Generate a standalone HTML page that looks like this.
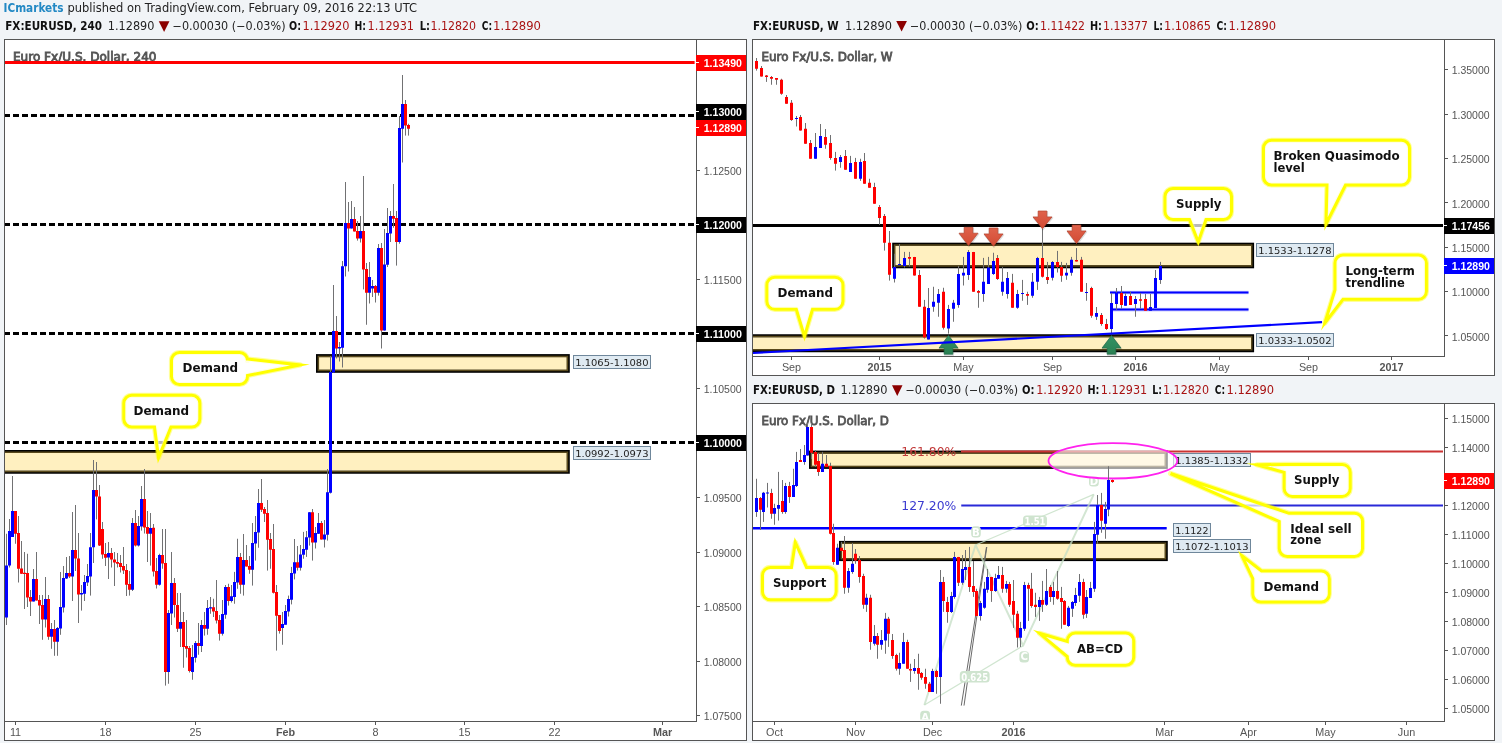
<!DOCTYPE html><html><head><meta charset="utf-8"><title>EURUSD</title><style>html,body{margin:0;padding:0;background:#f1f4f7}svg{display:block}text{white-space:pre}</style></head><body>
<svg width="1502" height="743" viewBox="0 0 1502 743">
<defs><linearGradient id="gr" x1="0" y1="0" x2="0" y2="1"><stop offset="0" stop-color="#e0624b"/><stop offset="1" stop-color="#d24b34"/></linearGradient><linearGradient id="gg" x1="0" y1="0" x2="0" y2="1"><stop offset="0" stop-color="#359364"/><stop offset="1" stop-color="#2a8052"/></linearGradient></defs>
<rect width="1502" height="743" fill="#f1f4f7"/>
<text x="3.5" y="12.2" font-family='"DejaVu Sans Condensed", "DejaVu Sans", "Liberation Sans", sans-serif' font-size="11.8" fill="#2389c4" font-weight="bold" textLength="60" lengthAdjust="spacingAndGlyphs">ICmarkets</text>
<text x="67.5" y="12.2" font-family='"DejaVu Sans", "Liberation Sans", sans-serif' font-size="11.8" fill="#222" textLength="349.5" lengthAdjust="spacingAndGlyphs">published on TradingView.com, February 09, 2016 22:13 UTC</text>
<rect x="4.5" y="39.5" width="742" height="701" fill="#fff" stroke="#555555" stroke-width="1"/>
<text x="5.25" y="30" font-family='"DejaVu Sans Condensed", "DejaVu Sans", "Liberation Sans", sans-serif' font-size="11.6" fill="#111" font-weight="bold" textLength="96.8" lengthAdjust="spacingAndGlyphs">FX:EURUSD, 240</text>
<text x="107.75" y="30" font-family='"DejaVu Sans", "Liberation Sans", sans-serif' font-size="11.6" fill="#222" textLength="46.7" lengthAdjust="spacingAndGlyphs">1.12890</text>
<path d="M158.75 21.3h10.7l-5.35 10.6z" fill="#8b0000"/>
<text x="172.5" y="30" font-family='"DejaVu Sans", "Liberation Sans", sans-serif' font-size="11.6" fill="#222" textLength="113" lengthAdjust="spacingAndGlyphs">−0.00030 (−0.03%)</text>
<text x="289" y="30" font-family='"DejaVu Sans Condensed", "DejaVu Sans", "Liberation Sans", sans-serif' font-size="11.6" fill="#111" font-weight="bold" textLength="12" lengthAdjust="spacingAndGlyphs">O:</text>
<text x="302.5" y="30" font-family='"DejaVu Sans", "Liberation Sans", sans-serif' font-size="11.6" fill="#a81212" textLength="47" lengthAdjust="spacingAndGlyphs">1.12920</text>
<text x="354.5" y="30" font-family='"DejaVu Sans Condensed", "DejaVu Sans", "Liberation Sans", sans-serif' font-size="11.6" fill="#111" font-weight="bold" textLength="11.5" lengthAdjust="spacingAndGlyphs">H:</text>
<text x="367.5" y="30" font-family='"DejaVu Sans", "Liberation Sans", sans-serif' font-size="11.6" fill="#a81212" textLength="46.5" lengthAdjust="spacingAndGlyphs">1.12931</text>
<text x="419.75" y="30" font-family='"DejaVu Sans Condensed", "DejaVu Sans", "Liberation Sans", sans-serif' font-size="11.6" fill="#111" font-weight="bold" textLength="10.3" lengthAdjust="spacingAndGlyphs">L:</text>
<text x="430.5" y="30" font-family='"DejaVu Sans", "Liberation Sans", sans-serif' font-size="11.6" fill="#a81212" textLength="45.5" lengthAdjust="spacingAndGlyphs">1.12820</text>
<text x="481.75" y="30" font-family='"DejaVu Sans Condensed", "DejaVu Sans", "Liberation Sans", sans-serif' font-size="11.6" fill="#111" font-weight="bold" textLength="10.3" lengthAdjust="spacingAndGlyphs">C:</text>
<text x="493" y="30" font-family='"DejaVu Sans", "Liberation Sans", sans-serif' font-size="11.6" fill="#a81212" textLength="48" lengthAdjust="spacingAndGlyphs">1.12890</text>
<clipPath id="c1"><rect x="5" y="40" width="691" height="681"/></clipPath>
<g clip-path="url(#c1)">
<text x="13" y="60.5" font-family='"DejaVu Sans", "Liberation Sans", sans-serif' font-size="11.5" fill="#555" textLength="143.5" lengthAdjust="spacingAndGlyphs" stroke="#555" stroke-width=".8">Euro Fx/U.S. Dollar, 240</text>
<rect x="317.5" y="355.6" width="250.8" height="15.7" fill="#fff0c0" stroke="#000" stroke-width="3"/>
<rect x="318.35" y="356.45" width="249.1" height="14" fill="none" stroke="#5a4a1c" stroke-width="1.5"/>
<rect x="0" y="451.4" width="568.3" height="20.9" fill="#fff0c0"/>
<path d="M0 451.4H568.3V472.3H0" fill="none" stroke="#000" stroke-width="3"/>
<path d="M0 452.25H567.45V471.45H0" fill="none" stroke="#5a4a1c" stroke-width="1.5"/>
<path d="M4 115.5H694.3" stroke="#000" stroke-width="3" stroke-dasharray="6 3" fill="none"/>
<path d="M4 224.5H694.3" stroke="#000" stroke-width="3" stroke-dasharray="6 3" fill="none"/>
<path d="M4 333.5H694.3" stroke="#000" stroke-width="3" stroke-dasharray="6 3" fill="none"/>
<path d="M4 442.5H694.3" stroke="#000" stroke-width="3" stroke-dasharray="6 3" fill="none"/>
<path d="M5 62.5H694.6" stroke="#ff0000" stroke-width="3" fill="none"/>
<path d="M6.5 533.75V625M9.5 519V567.5M12.5 476V537M15.5 511V543.75M18.5 516V582.5M21.5 541V574M24.5 552V609M27.5 553.75V607M30.5 590V616M33.5 569V601.5M36.5 552V600.6M39.5 595V624M42.5 595V639.8M45.5 577V627.5M48.5 595V639.8M51.5 623V648.8M54.5 620V655.8M57.5 627V655.8M60.5 572V634.8M63.5 566V612.5M66.5 557V579M69.5 556V578M72.5 512V601M75.5 505V571M78.5 533V623M81.5 585V610.6M84.5 575V601M87.5 564V586M90.5 533V595.6M93.5 460V563M96.5 462V519.4M99.5 485V546M102.5 522V558.75M105.5 543V566M108.5 542V579M111.5 548V567.5M114.5 552V586M117.5 553V567.5M120.5 555V572.5M123.5 547V574M126.5 564V596M129.5 571V595.6M132.5 518V591M135.5 510V546.5M138.5 516V546.5M141.5 486V530.6M144.5 469V533.5M147.5 511V562M150.5 513V565.6M153.5 524V576.5M156.5 558V588.5M159.5 553.75V585.6M162.5 529V568.75M165.5 529V685.6M168.5 610V683.75M171.5 552V625M174.5 578V617.5M177.5 593V632M180.5 593V647M183.5 612V667.75M186.5 620V657.5M189.5 646V672.5M192.5 645V679.75M195.5 641V662.5M198.5 623V654.75M201.5 620V652M204.5 612V635.6M207.5 600V634.75M210.5 597V613.75M213.5 598.75V617M216.5 580V623.5M219.5 615V640.6M222.5 600V635.6M225.5 585V618.75M228.5 583.75V605.6M231.5 585V602.5M234.5 571.9V603.75M237.5 538.75V588.75M240.5 553V593.75M243.5 534V595.6M246.5 545V566.5M249.5 556V573.75M252.5 523V585.6M255.5 516V560.6M258.5 489V547.75M261.5 479V512M264.5 507V522M267.5 500V570.6M270.5 533V568.75M273.5 524V593.5M276.5 585V650.6M279.5 615V633.6M282.5 612V644.75M285.5 605V624.75M288.5 595.6V616.5M291.5 566.9V604.4M294.5 539V579.4M297.5 546V570.6M300.5 545V570.6M303.5 531.9V558.75M306.5 531V556.9M309.5 512V545.6M312.5 509V560.6M315.5 527V548.5M318.5 513V534M321.5 521V539.5M324.5 520V547.5M327.5 469V540.6M330.5 356V493.5M333.5 285V372.5M336.5 316V358.5M339.5 342V361.5M342.5 261V367.5M345.5 182V276.5M348.5 202V271.5M351.5 201V228.5M354.5 207V231.5M357.5 221V240.6M360.5 216V242.5M363.5 176V289.4M366.5 263V324.75M369.5 262V303.5M372.5 280V297M375.5 285V302.5M378.5 244V295.6M381.5 243V348.5M384.5 229V330.6M387.5 208V267M390.5 211V242M393.5 184V227.75M396.5 211V265.6M399.5 116V243.75M402.5 75V162.5M405.5 100V135.6M408.5 123.75V135.6" stroke="#717173" stroke-width="1" fill="none"/>
<path d="M14 511h3V533.75h-3zM17 533h3V568.75h-3zM20 568.5h3V573.75h-3zM23 572.75h3V574h-3zM26 573h3V597.5h-3zM29 597h3V601.5h-3zM35 579h3V600.6h-3zM38 600h3V605.6h-3zM41 605h3V619.4h-3zM47 599h3V636.8h-3zM53 629h3V641.8h-3zM68 573h3V576.5h-3zM74 550h3V558.5h-3zM77 558.5h3V594.4h-3zM95 490h3V496.5h-3zM98 496.5h3V545.6h-3zM101 529h3V554.4h-3zM104 554h3V557.75h-3zM110 553h3V559.4h-3zM113 559.4h3V562.5h-3zM116 562h3V563.75h-3zM119 563h3V567h-3zM122 566h3V570.6h-3zM125 570h3V584.75h-3zM128 584h3V589.75h-3zM134 523h3V545.6h-3zM143 499h3V527.5h-3zM146 527h3V533.75h-3zM152 527.75h3V571.5h-3zM155 571h3V584.75h-3zM161 555h3V563.5h-3zM164 563h3V671.9h-3zM173 583h3V605h-3zM176 605h3V628.75h-3zM182 622h3V647h-3zM185 646h3V648.75h-3zM188 648h3V671h-3zM197 643h3V646h-3zM203 625h3V628.75h-3zM212 607.25h3V611.5h-3zM215 611h3V620.6h-3zM218 620h3V633.75h-3zM227 586.9h3V600.9h-3zM239 556.9h3V584.75h-3zM245 560h3V566.5h-3zM248 566h3V569.75h-3zM260 503h3V509.75h-3zM263 509h3V513.75h-3zM266 513h3V539.75h-3zM269 539h3V549.75h-3zM272 549h3V592.75h-3zM275 592h3V615.8h-3zM278 615h3V631h-3zM296 562.25h3V567.75h-3zM311 512.25h3V542.5h-3zM320 523h3V539.5h-3zM335 331h3V348.5h-3zM347 223h3V228.5h-3zM353 219h3V231.5h-3zM356 231h3V238.5h-3zM362 231h3V269.4h-3zM365 269h3V292.75h-3zM374 286h3V292.75h-3zM380 248h3V330.6h-3zM392 216h3V218.75h-3zM395 218h3V242h-3zM404 103.9h3V125.6h-3zM407 125h3V128.75h-3z" fill="#ff0000"/>
<path d="M5 565.6h3V617.5h-3zM8 531h3V565.6h-3zM11 511h3V537h-3zM32 579h3V601.5h-3zM44 599h3V619.4h-3zM50 629h3V636.8h-3zM56 628h3V641.8h-3zM59 607h3V628.5h-3zM62 578h3V607.5h-3zM65 573h3V578.5h-3zM71 550h3V576.5h-3zM80 593h3V594.4h-3zM83 582h3V593.75h-3zM86 576h3V582.5h-3zM89 547.25h3V576.5h-3zM92 490h3V547.25h-3zM107 553h3V557.5h-3zM131 523h3V589.75h-3zM137 526h3V545.6h-3zM140 499h3V526.5h-3zM149 528h3V533.75h-3zM158 555h3V584.75h-3zM167 613h3V672h-3zM170 583h3V613.5h-3zM179 622h3V628.75h-3zM191 657h3V672h-3zM194 643h3V657.75h-3zM200 625h3V646h-3zM206 608h3V628.75h-3zM209 607.25h3V608.5h-3zM221 614h3V633.75h-3zM224 586.9h3V614.75h-3zM230 596.25h3V600.9h-3zM233 582h3V596.9h-3zM236 556.9h3V582.5h-3zM242 560h3V584.75h-3zM251 543h3V569.75h-3zM254 531.9h3V543.5h-3zM257 503h3V532.5h-3zM281 624h3V628h-3zM284 611h3V624.75h-3zM287 599h3V611.5h-3zM290 573h3V599.75h-3zM293 562.25h3V573.5h-3zM299 554.4h3V567.75h-3zM302 549h3V554.75h-3zM305 537.25h3V549.75h-3zM308 512.25h3V537.5h-3zM314 533h3V542.5h-3zM317 523h3V533.75h-3zM323 534.4h3V539.5h-3zM326 492.25h3V534.75h-3zM329 371.9h3V492.75h-3zM332 331h3V372.5h-3zM338 346.9h3V348.5h-3zM341 266.25h3V347.75h-3zM344 223h3V266.25h-3zM350 219h3V228.5h-3zM359 231h3V238.5h-3zM368 276.9h3V292.75h-3zM371 286h3V288.5h-3zM377 248h3V292.75h-3zM383 264.4h3V330.6h-3zM386 233h3V264.75h-3zM389 216h3V233.5h-3zM398 128h3V242h-3zM401 103.9h3V128.75h-3z" fill="#0000ff"/>
</g>
<rect x="573.5" y="355.5" width="77" height="13" fill="#dfeaf2" stroke="#6f879b" stroke-width="1"/>
<text x="575.2" y="365.7" font-family='"DejaVu Sans", Verdana, sans-serif' font-size="9.4" fill="#222" textLength="73.3" lengthAdjust="spacingAndGlyphs">1.1065-1.1080</text>
<rect x="573.5" y="446.5" width="77" height="13" fill="#dfeaf2" stroke="#6f879b" stroke-width="1"/>
<text x="575.2" y="456.7" font-family='"DejaVu Sans", Verdana, sans-serif' font-size="9.4" fill="#222" textLength="73.3" lengthAdjust="spacingAndGlyphs">1.0992-1.0973</text>
<path d="M179.5 352.5L239.5 352.5A8 8 0 0 1 247.5 360.5L247.5 359L300.08 364.92L247.5 375.5L247.5 376.5A8 8 0 0 1 239.5 384.5L179.5 384.5A8 8 0 0 1 171.5 376.5L171.5 360.5A8 8 0 0 1 179.5 352.5Z" fill="none" stroke="#ffff00" stroke-width="5.2" stroke-linejoin="round" opacity=".4"/>
<path d="M179.5 352.5L239.5 352.5A8 8 0 0 1 247.5 360.5L247.5 359L300.08 364.92L247.5 375.5L247.5 376.5A8 8 0 0 1 239.5 384.5L179.5 384.5A8 8 0 0 1 171.5 376.5L171.5 360.5A8 8 0 0 1 179.5 352.5Z" fill="#fff" fill-opacity=".72" stroke="#ffff00" stroke-width="3" stroke-linejoin="miter" stroke-miterlimit="10"/>
<text x="182.5" y="372" font-family='"DejaVu Sans", Verdana, sans-serif' font-size="12" fill="#111" font-weight="bold" textLength="55.6" lengthAdjust="spacingAndGlyphs">Demand</text>
<path d="M131.8 395.3L191.8 395.3A8 8 0 0 1 199.8 403.3L199.8 419A8 8 0 0 1 191.8 427L171 427L158.56 457.68L154.5 427L131.8 427A8 8 0 0 1 123.8 419L123.8 403.3A8 8 0 0 1 131.8 395.3Z" fill="none" stroke="#ffff00" stroke-width="5.2" stroke-linejoin="round" opacity=".4"/>
<path d="M131.8 395.3L191.8 395.3A8 8 0 0 1 199.8 403.3L199.8 419A8 8 0 0 1 191.8 427L171 427L158.56 457.68L154.5 427L131.8 427A8 8 0 0 1 123.8 419L123.8 403.3A8 8 0 0 1 131.8 395.3Z" fill="#fff" fill-opacity=".72" stroke="#ffff00" stroke-width="3" stroke-linejoin="miter" stroke-miterlimit="10"/>
<text x="133.5" y="414.8" font-family='"DejaVu Sans", Verdana, sans-serif' font-size="12" fill="#111" font-weight="bold" textLength="55.6" lengthAdjust="spacingAndGlyphs">Demand</text>
<path d="M696.5 40V722 M5 721.5H697" stroke="#555555" stroke-width="1" fill="none"/>
<rect x="697" y="170" width="3" height="1" fill="#555555"/>
<text x="703.7" y="175.2" font-family='"Liberation Sans", Arial, sans-serif' font-size="10.6" fill="#555" textLength="37.9" lengthAdjust="spacingAndGlyphs">1.12500</text>
<rect x="697" y="279" width="3" height="1" fill="#555555"/>
<text x="703.7" y="284.2" font-family='"Liberation Sans", Arial, sans-serif' font-size="10.6" fill="#555" textLength="37.9" lengthAdjust="spacingAndGlyphs">1.11500</text>
<rect x="697" y="388" width="3" height="1" fill="#555555"/>
<text x="703.7" y="393.2" font-family='"Liberation Sans", Arial, sans-serif' font-size="10.6" fill="#555" textLength="37.9" lengthAdjust="spacingAndGlyphs">1.10500</text>
<rect x="697" y="497" width="3" height="1" fill="#555555"/>
<text x="703.7" y="502.2" font-family='"Liberation Sans", Arial, sans-serif' font-size="10.6" fill="#555" textLength="37.9" lengthAdjust="spacingAndGlyphs">1.09500</text>
<rect x="697" y="552" width="3" height="1" fill="#555555"/>
<text x="703.7" y="556.7" font-family='"Liberation Sans", Arial, sans-serif' font-size="10.6" fill="#555" textLength="37.9" lengthAdjust="spacingAndGlyphs">1.09000</text>
<rect x="697" y="606" width="3" height="1" fill="#555555"/>
<text x="703.7" y="611.2" font-family='"Liberation Sans", Arial, sans-serif' font-size="10.6" fill="#555" textLength="37.9" lengthAdjust="spacingAndGlyphs">1.08500</text>
<rect x="697" y="661" width="3" height="1" fill="#555555"/>
<text x="703.7" y="665.7" font-family='"Liberation Sans", Arial, sans-serif' font-size="10.6" fill="#555" textLength="37.9" lengthAdjust="spacingAndGlyphs">1.08000</text>
<rect x="697" y="715" width="3" height="1" fill="#555555"/>
<text x="703.7" y="720.2" font-family='"Liberation Sans", Arial, sans-serif' font-size="10.6" fill="#555" textLength="37.9" lengthAdjust="spacingAndGlyphs">1.07500</text>
<rect x="696" y="55" width="50" height="16" fill="#ff0000"/>
<rect x="696" y="62" width="3" height="1" fill="#fff"/>
<text x="703.7" y="67.4" font-family='"Liberation Sans", Arial, sans-serif' font-size="10.6" fill="#fff" font-weight="bold" textLength="38.2" lengthAdjust="spacingAndGlyphs">1.13490</text>
<rect x="696" y="104" width="50" height="16" fill="#000"/>
<rect x="696" y="111" width="3" height="1" fill="#fff"/>
<text x="703.7" y="116.4" font-family='"Liberation Sans", Arial, sans-serif' font-size="10.6" fill="#fff" font-weight="bold" textLength="38.2" lengthAdjust="spacingAndGlyphs">1.13000</text>
<rect x="696" y="120" width="50" height="16" fill="#ff0000"/>
<rect x="696" y="127" width="3" height="1" fill="#fff"/>
<text x="703.7" y="132.4" font-family='"Liberation Sans", Arial, sans-serif' font-size="10.6" fill="#fff" font-weight="bold" textLength="38.2" lengthAdjust="spacingAndGlyphs">1.12890</text>
<rect x="696" y="217" width="50" height="16" fill="#000"/>
<rect x="696" y="224" width="3" height="1" fill="#fff"/>
<text x="703.7" y="229.4" font-family='"Liberation Sans", Arial, sans-serif' font-size="10.6" fill="#fff" font-weight="bold" textLength="38.2" lengthAdjust="spacingAndGlyphs">1.12000</text>
<rect x="696" y="326" width="50" height="16" fill="#000"/>
<rect x="696" y="333" width="3" height="1" fill="#fff"/>
<text x="703.7" y="338.4" font-family='"Liberation Sans", Arial, sans-serif' font-size="10.6" fill="#fff" font-weight="bold" textLength="38.2" lengthAdjust="spacingAndGlyphs">1.11000</text>
<rect x="696" y="435" width="50" height="16" fill="#000"/>
<rect x="696" y="442" width="3" height="1" fill="#fff"/>
<text x="703.7" y="447.4" font-family='"Liberation Sans", Arial, sans-serif' font-size="10.6" fill="#fff" font-weight="bold" textLength="38.2" lengthAdjust="spacingAndGlyphs">1.10000</text>
<rect x="15" y="722" width="1" height="3" fill="#555555"/>
<text x="15.5" y="736.2" font-family='"Liberation Sans", Arial, sans-serif' font-size="10.8" fill="#555" text-anchor="middle">11</text>
<rect x="105" y="722" width="1" height="3" fill="#555555"/>
<text x="105.5" y="736.2" font-family='"Liberation Sans", Arial, sans-serif' font-size="10.8" fill="#555" text-anchor="middle">18</text>
<rect x="195" y="722" width="1" height="3" fill="#555555"/>
<text x="195.5" y="736.2" font-family='"Liberation Sans", Arial, sans-serif' font-size="10.8" fill="#555" text-anchor="middle">25</text>
<rect x="285" y="722" width="1" height="3" fill="#555555"/>
<text x="285.5" y="736.2" font-family='"Liberation Sans", Arial, sans-serif' font-size="10.8" fill="#555" font-weight="bold" text-anchor="middle">Feb</text>
<rect x="375" y="722" width="1" height="3" fill="#555555"/>
<text x="375.5" y="736.2" font-family='"Liberation Sans", Arial, sans-serif' font-size="10.8" fill="#555" text-anchor="middle">8</text>
<rect x="464" y="722" width="1" height="3" fill="#555555"/>
<text x="464.5" y="736.2" font-family='"Liberation Sans", Arial, sans-serif' font-size="10.8" fill="#555" text-anchor="middle">15</text>
<rect x="554" y="722" width="1" height="3" fill="#555555"/>
<text x="554.5" y="736.2" font-family='"Liberation Sans", Arial, sans-serif' font-size="10.8" fill="#555" text-anchor="middle">22</text>
<rect x="662" y="722" width="1" height="3" fill="#555555"/>
<text x="662.5" y="736.2" font-family='"Liberation Sans", Arial, sans-serif' font-size="10.8" fill="#555" font-weight="bold" text-anchor="middle">Mar</text>
<rect x="752.5" y="39.5" width="742" height="336" fill="#fff" stroke="#555555" stroke-width="1"/>
<text x="753" y="29.7" font-family='"DejaVu Sans Condensed", "DejaVu Sans", "Liberation Sans", sans-serif' font-size="11.6" fill="#111" font-weight="bold" textLength="85.75" lengthAdjust="spacingAndGlyphs">FX:EURUSD, W</text>
<text x="845" y="29.7" font-family='"DejaVu Sans", "Liberation Sans", sans-serif' font-size="11.6" fill="#222" textLength="47" lengthAdjust="spacingAndGlyphs">1.12890</text>
<path d="M896.25 21h10.7l-5.35 10.6z" fill="#8b0000"/>
<text x="910" y="29.7" font-family='"DejaVu Sans", "Liberation Sans", sans-serif' font-size="11.6" fill="#222" textLength="112.3" lengthAdjust="spacingAndGlyphs">−0.00030 (−0.03%)</text>
<text x="1026.25" y="29.7" font-family='"DejaVu Sans Condensed", "DejaVu Sans", "Liberation Sans", sans-serif' font-size="11.6" fill="#111" font-weight="bold" textLength="12.5" lengthAdjust="spacingAndGlyphs">O:</text>
<text x="1040" y="29.7" font-family='"DejaVu Sans", "Liberation Sans", sans-serif' font-size="11.6" fill="#a81212" textLength="45" lengthAdjust="spacingAndGlyphs">1.11422</text>
<text x="1090" y="29.7" font-family='"DejaVu Sans Condensed", "DejaVu Sans", "Liberation Sans", sans-serif' font-size="11.6" fill="#111" font-weight="bold" textLength="12" lengthAdjust="spacingAndGlyphs">H:</text>
<text x="1103" y="29.7" font-family='"DejaVu Sans", "Liberation Sans", sans-serif' font-size="11.6" fill="#a81212" textLength="45" lengthAdjust="spacingAndGlyphs">1.13377</text>
<text x="1153.5" y="29.7" font-family='"DejaVu Sans Condensed", "DejaVu Sans", "Liberation Sans", sans-serif' font-size="11.6" fill="#111" font-weight="bold" textLength="9.5" lengthAdjust="spacingAndGlyphs">L:</text>
<text x="1164" y="29.7" font-family='"DejaVu Sans", "Liberation Sans", sans-serif' font-size="11.6" fill="#a81212" textLength="47" lengthAdjust="spacingAndGlyphs">1.10865</text>
<text x="1216.5" y="29.7" font-family='"DejaVu Sans Condensed", "DejaVu Sans", "Liberation Sans", sans-serif' font-size="11.6" fill="#111" font-weight="bold" textLength="10.5" lengthAdjust="spacingAndGlyphs">C:</text>
<text x="1228.5" y="29.7" font-family='"DejaVu Sans", "Liberation Sans", sans-serif' font-size="11.6" fill="#a81212" textLength="47.5" lengthAdjust="spacingAndGlyphs">1.12890</text>
<clipPath id="c2"><rect x="753" y="40" width="691" height="316"/></clipPath>
<g clip-path="url(#c2)">
<text x="761.5" y="60.6" font-family='"DejaVu Sans", "Liberation Sans", sans-serif' font-size="11.5" fill="#555" textLength="131" lengthAdjust="spacingAndGlyphs" stroke="#555" stroke-width=".8">Euro Fx/U.S. Dollar, W</text>
<rect x="893.7" y="244.2" width="358.9" height="22.6" fill="#fff0c0" stroke="#000" stroke-width="3"/>
<rect x="894.55" y="245.05" width="357.2" height="20.9" fill="none" stroke="#5a4a1c" stroke-width="1.5"/>
<rect x="740" y="335.7" width="512.6" height="15" fill="#fff0c0"/>
<path d="M740 335.7H1252.6V350.7H740" fill="none" stroke="#000" stroke-width="3"/>
<path d="M740 336.55H1251.75V349.85H740" fill="none" stroke="#5a4a1c" stroke-width="1.5"/>
<path d="M753 225.5H1443" stroke="#000" stroke-width="3" fill="none"/>
<path d="M1110 292.5H1248.5M1112 309.6H1248.5" stroke="#0000ff" stroke-width="3.6" opacity=".2" fill="none"/>
<path d="M1110 292.5H1248.5M1112 309.6H1248.5" stroke="#0000ff" stroke-width="2" fill="none"/>
<path d="M756.5 58V70.6M761.5 66V76.6M766.5 75V81.9M771.5 76V84.75M776.5 78V84.75M781.5 78.75V94.75M786.5 95V103.75M791.5 100V120.9M796.5 116V126.5M800.5 115V130.6M805.5 123V143.75M810.5 140V158.75M815.5 133V158.75M820.5 124V147.9M825.5 129V148.75M830.5 135V159.75M835.5 151.9V170.6M840.5 155V167.75M845.5 150V169.75M850.5 155.9V171.9M855.5 157.9V178.75M860.5 158.75V180.9M864.5 153V183.75M869.5 178.75V187.75M874.5 182.75V203.75M879.5 205V224.75M884.5 214V250.6M889.5 231V280.6M894.5 253.75V282.5M899.5 244V265M904.5 251.9V267.5M909.5 251.9V266.5M914.5 256.9V275.6M919.5 270V306.75M924.5 299.9V338.6M928.5 288V339.5M933.5 286.75V311.75M938.5 289V316.75M943.5 287.75V329.5M948.5 304.9V333.6M953.5 299.9V321.75M958.5 265.9V307.75M963.5 256.9V285.5M968.5 250V279.9M973.5 251.9V291.75M978.5 290V307.75M983.5 257.9V301.75M988.5 256.9V283.9M993.5 252.75V274.9M997.5 255V279.9M1002.5 266.9V295.75M1007.5 272V298.6M1012.5 273.9V307.75M1017.5 289.9V308.75M1022.5 279.9V300.75M1027.5 291.75V304.9M1032.5 273V297.75M1037.5 256.9V289.9M1042.5 228.5V277.5M1047.5 261.9V283.9M1052.5 261V280.5M1057.5 250.9V272.5M1061.5 261.9V281.8M1066.5 262.9V279.8M1071.5 256.9V275.7M1076.5 248V261.6M1081.5 256.9V291.75M1086.5 283V300.75M1091.5 286.75V317.75M1096.5 307V319.9M1101.5 313V325.75M1106.5 318.9V329.9M1111.5 293V333.6M1116.5 288V309.9M1121.5 286V308.75M1125.5 293V305.75M1130.5 291.75V304.9M1135.5 296V316.75M1140.5 293V308.75M1145.5 293.9V310.75M1150.5 293.9V310.75M1155.5 270V308M1160.5 261.9V283.9" stroke="#717173" stroke-width="1" fill="none"/>
<path d="M755 61h3V68.75h-3zM760 67.9h3V76.6h-3zM765 75.6h3V76.9h-3zM770 76.9h3V78.75h-3zM775 78h3V79.75h-3zM780 79.75h3V93.75h-3zM785 96.9h3V103.75h-3zM790 102.75h3V120h-3zM799 116.9h3V130.6h-3zM804 128.75h3V143.75h-3zM809 142.9h3V158.75h-3zM824 136.9h3V144.75h-3zM829 142.9h3V157.9h-3zM834 157.9h3V163.75h-3zM844 155.9h3V169.75h-3zM854 161.9h3V178.75h-3zM863 160.9h3V183.75h-3zM868 182.75h3V187.75h-3zM873 186.9h3V203.75h-3zM878 206.9h3V217.9h-3zM883 216h3V242.75h-3zM888 242.75h3V274.75h-3zM908 256.9h3V258.75h-3zM913 256.9h3V275.6h-3zM918 275h3V306.75h-3zM923 306.75h3V337.4h-3zM942 291.75h3V327.75h-3zM972 251.9h3V291.75h-3zM977 290.9h3V292.75h-3zM996 257.9h3V279h-3zM1011 282.75h3V307.75h-3zM1026 293.9h3V295.75h-3zM1041 257.9h3V276.75h-3zM1046 276.9h3V280h-3zM1056 261.9h3V266.9h-3zM1060 266.9h3V275.7h-3zM1075 260h3V261.6h-3zM1080 259.75h3V291.75h-3zM1090 288h3V315.75h-3zM1100 314.9h3V323.9h-3zM1105 323.9h3V328.9h-3zM1120 293h3V304.9h-3zM1129 296h3V304.9h-3zM1139 299.25h3V300.75h-3zM1144 298.9h3V310.75h-3z" fill="#ff0000"/>
<path d="M795 118h3V119h-3zM814 146.9h3V158.75h-3zM819 136h3V147.9h-3zM839 156.9h3V161.9h-3zM849 162.9h3V171.9h-3zM859 161.9h3V178.75h-3zM893 266.9h3V278.75h-3zM898 264h3V265h-3zM903 257.9h3V265.9h-3zM927 308h3V339.5h-3zM932 301.75h3V306.75h-3zM937 293.9h3V302.75h-3zM947 309h3V328.6h-3zM952 302.75h3V308.75h-3zM957 273.9h3V304.9h-3zM962 272.75h3V275.6h-3zM967 251.9h3V274.9h-3zM982 281.75h3V293.9h-3zM987 267.5h3V283.9h-3zM992 260.9h3V273.9h-3zM1001 281.75h3V291.75h-3zM1006 278h3V293.9h-3zM1016 293.9h3V307.75h-3zM1021 293h3V294h-3zM1031 281.75h3V295.75h-3zM1036 257.9h3V281.75h-3zM1051 261.9h3V277.75h-3zM1065 272.75h3V275.6h-3zM1070 259.75h3V272.75h-3zM1085 292h3V293h-3zM1095 313h3V316.75h-3zM1110 303h3V328.9h-3zM1115 292.4h3V303.9h-3zM1124 296h3V305.75h-3zM1134 298.9h3V303.9h-3zM1149 307h3V310.75h-3zM1154 278h3V308h-3zM1159 265.9h3V279.9h-3z" fill="#0000ff"/>
<path d="M964.15 227.3H972.85V233.2H978L968.5 245.6L959 233.2H964.15Z" fill="#000" opacity=".13" stroke="#000" stroke-width="1.6" stroke-linejoin="round" transform="translate(0.5,0.9)"/>
<path d="M964.15 227.3H972.85V233.2H978L968.5 245.6L959 233.2H964.15Z" fill="url(#gr)" stroke="#b5452f" stroke-width="0.7" stroke-linejoin="round"/>
<path d="M989.15 228H997.85V233.9H1003L993.5 246.2L984 233.9H989.15Z" fill="#000" opacity=".13" stroke="#000" stroke-width="1.6" stroke-linejoin="round" transform="translate(0.5,0.9)"/>
<path d="M989.15 228H997.85V233.9H1003L993.5 246.2L984 233.9H989.15Z" fill="url(#gr)" stroke="#b5452f" stroke-width="0.7" stroke-linejoin="round"/>
<path d="M1038.15 211H1046.85V216.9H1052L1042.5 228.7L1033 216.9H1038.15Z" fill="#000" opacity=".13" stroke="#000" stroke-width="1.6" stroke-linejoin="round" transform="translate(0.5,0.9)"/>
<path d="M1038.15 211H1046.85V216.9H1052L1042.5 228.7L1033 216.9H1038.15Z" fill="url(#gr)" stroke="#b5452f" stroke-width="0.7" stroke-linejoin="round"/>
<path d="M1072.15 225H1080.85V230.9H1086L1076.5 243.5L1067 230.9H1072.15Z" fill="#000" opacity=".13" stroke="#000" stroke-width="1.6" stroke-linejoin="round" transform="translate(0.5,0.9)"/>
<path d="M1072.15 225H1080.85V230.9H1086L1076.5 243.5L1067 230.9H1072.15Z" fill="url(#gr)" stroke="#b5452f" stroke-width="0.7" stroke-linejoin="round"/>
<path d="M948.5 335.5L958 348.1H952.85V354.2H944.15V348.1H939Z" fill="#000" opacity=".13" stroke="#000" stroke-width="1.6" stroke-linejoin="round" transform="translate(0.5,0.9)"/>
<path d="M948.5 335.5L958 348.1H952.85V354.2H944.15V348.1H939Z" fill="url(#gg)" stroke="#23694a" stroke-width="0.7" stroke-linejoin="round"/>
<path d="M1111.5 335.5L1121 348.1H1115.85V354.2H1107.15V348.1H1102Z" fill="#000" opacity=".13" stroke="#000" stroke-width="1.6" stroke-linejoin="round" transform="translate(0.5,0.9)"/>
<path d="M1111.5 335.5L1121 348.1H1115.85V354.2H1107.15V348.1H1102Z" fill="url(#gg)" stroke="#23694a" stroke-width="0.7" stroke-linejoin="round"/>
<path d="M753 353L1322 322.2" stroke="#0000ff" stroke-width="2.2" fill="none"/>
</g>
<rect x="1256.5" y="243.5" width="77" height="13" fill="#dfeaf2" stroke="#6f879b" stroke-width="1"/>
<text x="1258.2" y="253.7" font-family='"DejaVu Sans", Verdana, sans-serif' font-size="9.4" fill="#222" textLength="73.3" lengthAdjust="spacingAndGlyphs">1.1533-1.1278</text>
<rect x="1256.5" y="333.5" width="77" height="13" fill="#dfeaf2" stroke="#6f879b" stroke-width="1"/>
<text x="1258.2" y="343.7" font-family='"DejaVu Sans", Verdana, sans-serif' font-size="9.4" fill="#222" textLength="73.3" lengthAdjust="spacingAndGlyphs">1.0333-1.0502</text>
<path d="M774.9 277.2L834.9 277.2A8 8 0 0 1 842.9 285.2L842.9 301.3A8 8 0 0 1 834.9 309.3L812.5 309.3L804.49 336.18L796.3 309.3L774.9 309.3A8 8 0 0 1 766.9 301.3L766.9 285.2A8 8 0 0 1 774.9 277.2Z" fill="none" stroke="#ffff00" stroke-width="5.2" stroke-linejoin="round" opacity=".4"/>
<path d="M774.9 277.2L834.9 277.2A8 8 0 0 1 842.9 285.2L842.9 301.3A8 8 0 0 1 834.9 309.3L812.5 309.3L804.49 336.18L796.3 309.3L774.9 309.3A8 8 0 0 1 766.9 301.3L766.9 285.2A8 8 0 0 1 774.9 277.2Z" fill="#fff" fill-opacity=".72" stroke="#ffff00" stroke-width="3" stroke-linejoin="miter" stroke-miterlimit="10"/>
<text x="777.6" y="296.5" font-family='"DejaVu Sans", Verdana, sans-serif' font-size="12" fill="#111" font-weight="bold" textLength="55.4" lengthAdjust="spacingAndGlyphs">Demand</text>
<path d="M1173 188.5L1223.5 188.5A8 8 0 0 1 1231.5 196.5L1231.5 211.5A8 8 0 0 1 1223.5 219.5L1206 219.5L1198.24 241.89L1189.5 219.5L1173 219.5A8 8 0 0 1 1165 211.5L1165 196.5A8 8 0 0 1 1173 188.5Z" fill="none" stroke="#ffff00" stroke-width="5.2" stroke-linejoin="round" opacity=".4"/>
<path d="M1173 188.5L1223.5 188.5A8 8 0 0 1 1231.5 196.5L1231.5 211.5A8 8 0 0 1 1223.5 219.5L1206 219.5L1198.24 241.89L1189.5 219.5L1173 219.5A8 8 0 0 1 1165 211.5L1165 196.5A8 8 0 0 1 1173 188.5Z" fill="#fff" fill-opacity=".72" stroke="#ffff00" stroke-width="3" stroke-linejoin="miter" stroke-miterlimit="10"/>
<text x="1176" y="207.7" font-family='"DejaVu Sans", Verdana, sans-serif' font-size="12" fill="#111" font-weight="bold" textLength="45.5" lengthAdjust="spacingAndGlyphs">Supply</text>
<path d="M1271.5 140.3L1401.5 140.3A8 8 0 0 1 1409.5 148.3L1409.5 177A8 8 0 0 1 1401.5 185L1345.5 185L1326.04 224.03L1327 185L1271.5 185A8 8 0 0 1 1263.5 177L1263.5 148.3A8 8 0 0 1 1271.5 140.3Z" fill="none" stroke="#ffff00" stroke-width="5.2" stroke-linejoin="round" opacity=".4"/>
<path d="M1271.5 140.3L1401.5 140.3A8 8 0 0 1 1409.5 148.3L1409.5 177A8 8 0 0 1 1401.5 185L1345.5 185L1326.04 224.03L1327 185L1271.5 185A8 8 0 0 1 1263.5 177L1263.5 148.3A8 8 0 0 1 1271.5 140.3Z" fill="#fff" fill-opacity=".72" stroke="#ffff00" stroke-width="3" stroke-linejoin="miter" stroke-miterlimit="10"/>
<text x="1273.5" y="160" font-family='"DejaVu Sans", Verdana, sans-serif' font-size="12" fill="#111" font-weight="bold" textLength="126.3" lengthAdjust="spacingAndGlyphs">Broken Quasimodo</text>
<text x="1273.5" y="171.8" font-family='"DejaVu Sans", Verdana, sans-serif' font-size="12" fill="#111" font-weight="bold" textLength="31.2" lengthAdjust="spacingAndGlyphs">level</text>
<path d="M1343 255L1418.4 255A8 8 0 0 1 1426.4 263L1426.4 291.3A8 8 0 0 1 1418.4 299.3L1343 299.3L1324.89 322.88L1335 290L1335 263A8 8 0 0 1 1343 255Z" fill="none" stroke="#ffff00" stroke-width="5.2" stroke-linejoin="round" opacity=".4"/>
<path d="M1343 255L1418.4 255A8 8 0 0 1 1426.4 263L1426.4 291.3A8 8 0 0 1 1418.4 299.3L1343 299.3L1324.89 322.88L1335 290L1335 263A8 8 0 0 1 1343 255Z" fill="#fff" fill-opacity=".72" stroke="#ffff00" stroke-width="3" stroke-linejoin="miter" stroke-miterlimit="10"/>
<text x="1345.5" y="274.7" font-family='"DejaVu Sans", Verdana, sans-serif' font-size="12" fill="#111" font-weight="bold" textLength="69.3" lengthAdjust="spacingAndGlyphs">Long-term</text>
<text x="1345.5" y="286.5" font-family='"DejaVu Sans", Verdana, sans-serif' font-size="12" fill="#111" font-weight="bold" textLength="59.3" lengthAdjust="spacingAndGlyphs">trendline</text>
<path d="M1444.5 40V357 M753 356.5H1445" stroke="#555555" stroke-width="1" fill="none"/>
<rect x="1445" y="69" width="3" height="1" fill="#555555"/>
<text x="1451.7" y="74.45" font-family='"Liberation Sans", Arial, sans-serif' font-size="10.6" fill="#555" textLength="37.9" lengthAdjust="spacingAndGlyphs">1.35000</text>
<rect x="1445" y="114" width="3" height="1" fill="#555555"/>
<text x="1451.7" y="118.8" font-family='"Liberation Sans", Arial, sans-serif' font-size="10.6" fill="#555" textLength="37.9" lengthAdjust="spacingAndGlyphs">1.30000</text>
<rect x="1445" y="158" width="3" height="1" fill="#555555"/>
<text x="1451.7" y="163.15" font-family='"Liberation Sans", Arial, sans-serif' font-size="10.6" fill="#555" textLength="37.9" lengthAdjust="spacingAndGlyphs">1.25000</text>
<rect x="1445" y="202" width="3" height="1" fill="#555555"/>
<text x="1451.7" y="207.5" font-family='"Liberation Sans", Arial, sans-serif' font-size="10.6" fill="#555" textLength="37.9" lengthAdjust="spacingAndGlyphs">1.20000</text>
<rect x="1445" y="247" width="3" height="1" fill="#555555"/>
<text x="1451.7" y="251.85" font-family='"Liberation Sans", Arial, sans-serif' font-size="10.6" fill="#555" textLength="37.9" lengthAdjust="spacingAndGlyphs">1.15000</text>
<rect x="1445" y="291" width="3" height="1" fill="#555555"/>
<text x="1451.7" y="296.2" font-family='"Liberation Sans", Arial, sans-serif' font-size="10.6" fill="#555" textLength="37.9" lengthAdjust="spacingAndGlyphs">1.10000</text>
<rect x="1445" y="335" width="3" height="1" fill="#555555"/>
<text x="1451.7" y="340.55" font-family='"Liberation Sans", Arial, sans-serif' font-size="10.6" fill="#555" textLength="37.9" lengthAdjust="spacingAndGlyphs">1.05000</text>
<rect x="1444" y="218" width="50" height="16" fill="#000"/>
<rect x="1444" y="225" width="3" height="1" fill="#fff"/>
<text x="1451.7" y="230.4" font-family='"Liberation Sans", Arial, sans-serif' font-size="10.6" fill="#fff" font-weight="bold" textLength="38.2" lengthAdjust="spacingAndGlyphs">1.17456</text>
<rect x="1444" y="258" width="50" height="16" fill="#0000ff"/>
<rect x="1444" y="265" width="3" height="1" fill="#fff"/>
<text x="1451.7" y="270.4" font-family='"Liberation Sans", Arial, sans-serif' font-size="10.6" fill="#fff" font-weight="bold" textLength="38.2" lengthAdjust="spacingAndGlyphs">1.12890</text>
<rect x="791" y="357" width="1" height="3" fill="#555555"/>
<text x="791.5" y="371.2" font-family='"Liberation Sans", Arial, sans-serif' font-size="10.8" fill="#555" text-anchor="middle">Sep</text>
<rect x="879" y="357" width="1" height="3" fill="#555555"/>
<text x="879.5" y="371.2" font-family='"Liberation Sans", Arial, sans-serif' font-size="10.8" fill="#555" font-weight="bold" text-anchor="middle">2015</text>
<rect x="963" y="357" width="1" height="3" fill="#555555"/>
<text x="963.5" y="371.2" font-family='"Liberation Sans", Arial, sans-serif' font-size="10.8" fill="#555" text-anchor="middle">May</text>
<rect x="1052" y="357" width="1" height="3" fill="#555555"/>
<text x="1052.5" y="371.2" font-family='"Liberation Sans", Arial, sans-serif' font-size="10.8" fill="#555" text-anchor="middle">Sep</text>
<rect x="1135" y="357" width="1" height="3" fill="#555555"/>
<text x="1135.5" y="371.2" font-family='"Liberation Sans", Arial, sans-serif' font-size="10.8" fill="#555" font-weight="bold" text-anchor="middle">2016</text>
<rect x="1219" y="357" width="1" height="3" fill="#555555"/>
<text x="1219.5" y="371.2" font-family='"Liberation Sans", Arial, sans-serif' font-size="10.8" fill="#555" text-anchor="middle">May</text>
<rect x="1308" y="357" width="1" height="3" fill="#555555"/>
<text x="1308.5" y="371.2" font-family='"Liberation Sans", Arial, sans-serif' font-size="10.8" fill="#555" text-anchor="middle">Sep</text>
<rect x="1391" y="357" width="1" height="3" fill="#555555"/>
<text x="1391.5" y="371.2" font-family='"Liberation Sans", Arial, sans-serif' font-size="10.8" fill="#555" font-weight="bold" text-anchor="middle">2017</text>
<rect x="752.5" y="403.5" width="742" height="337" fill="#fff" stroke="#555555" stroke-width="1"/>
<text x="753" y="394" font-family='"DejaVu Sans Condensed", "DejaVu Sans", "Liberation Sans", sans-serif' font-size="11.6" fill="#111" font-weight="bold" textLength="82" lengthAdjust="spacingAndGlyphs">FX:EURUSD, D</text>
<text x="840.5" y="394" font-family='"DejaVu Sans", "Liberation Sans", sans-serif' font-size="11.6" fill="#222" textLength="47" lengthAdjust="spacingAndGlyphs">1.12890</text>
<path d="M892 385.3h10.5l-5.25 10.6z" fill="#8b0000"/>
<text x="905.5" y="394" font-family='"DejaVu Sans", "Liberation Sans", sans-serif' font-size="11.6" fill="#222" textLength="112.6" lengthAdjust="spacingAndGlyphs">−0.00030 (−0.03%)</text>
<text x="1022" y="394" font-family='"DejaVu Sans Condensed", "DejaVu Sans", "Liberation Sans", sans-serif' font-size="11.6" fill="#111" font-weight="bold" textLength="12.5" lengthAdjust="spacingAndGlyphs">O:</text>
<text x="1036.25" y="394" font-family='"DejaVu Sans", "Liberation Sans", sans-serif' font-size="11.6" fill="#a81212" textLength="46.25" lengthAdjust="spacingAndGlyphs">1.12920</text>
<text x="1087.5" y="394" font-family='"DejaVu Sans Condensed", "DejaVu Sans", "Liberation Sans", sans-serif' font-size="11.6" fill="#111" font-weight="bold" textLength="12" lengthAdjust="spacingAndGlyphs">H:</text>
<text x="1100.75" y="394" font-family='"DejaVu Sans", "Liberation Sans", sans-serif' font-size="11.6" fill="#a81212" textLength="46.5" lengthAdjust="spacingAndGlyphs">1.12931</text>
<text x="1152.25" y="394" font-family='"DejaVu Sans Condensed", "DejaVu Sans", "Liberation Sans", sans-serif' font-size="11.6" fill="#111" font-weight="bold" textLength="9.75" lengthAdjust="spacingAndGlyphs">L:</text>
<text x="1163" y="394" font-family='"DejaVu Sans", "Liberation Sans", sans-serif' font-size="11.6" fill="#a81212" textLength="46" lengthAdjust="spacingAndGlyphs">1.12820</text>
<text x="1214.75" y="394" font-family='"DejaVu Sans Condensed", "DejaVu Sans", "Liberation Sans", sans-serif' font-size="11.6" fill="#111" font-weight="bold" textLength="10.25" lengthAdjust="spacingAndGlyphs">C:</text>
<text x="1226.5" y="394" font-family='"DejaVu Sans", "Liberation Sans", sans-serif' font-size="11.6" fill="#a81212" textLength="47.5" lengthAdjust="spacingAndGlyphs">1.12890</text>
<clipPath id="c3"><rect x="753" y="404" width="691" height="317"/></clipPath>
<g clip-path="url(#c3)">
<text x="761.5" y="424.75" font-family='"DejaVu Sans", "Liberation Sans", sans-serif' font-size="11.5" fill="#555" textLength="127.5" lengthAdjust="spacingAndGlyphs" stroke="#555" stroke-width=".8">Euro Fx/U.S. Dollar, D</text>
<rect x="810.5" y="452.1" width="355.8" height="15.3" fill="#fff0c0" stroke="#000" stroke-width="3"/>
<rect x="811.35" y="452.95" width="354.1" height="13.6" fill="none" stroke="#5a4a1c" stroke-width="1.5"/>
<rect x="840.5" y="542.4" width="325.8" height="17.2" fill="#fff0c0" stroke="#000" stroke-width="3"/>
<rect x="841.35" y="543.25" width="324.1" height="15.5" fill="none" stroke="#5a4a1c" stroke-width="1.5"/>
<path d="M961 451.4H1443" stroke="#cc3333" stroke-width="2" fill="none"/>
<path d="M961.25 505.5H1443" stroke="#2a2ad8" stroke-width="2" fill="none"/>
<text x="901.3" y="455.6" font-family='"DejaVu Sans", Verdana, sans-serif' font-size="12" fill="#c23a3a" textLength="55" lengthAdjust="spacingAndGlyphs">161.80%</text>
<text x="901.3" y="510" font-family='"DejaVu Sans", Verdana, sans-serif' font-size="12" fill="#3b3bd0" textLength="55" lengthAdjust="spacingAndGlyphs">127.20%</text>
<path d="M753 528.3H1166.7" stroke="#0000ff" stroke-width="2.4" fill="none"/>
<path d="M986.5 547L961.3 705.6M986.8 547L964 705.6" stroke="#6a6a6a" stroke-width="1" fill="none"/>
<path d="M924.4 705L975.6 545L1023.1 645.7L1093.75 494.4" stroke="#c4dec4" stroke-width="2" fill="none" opacity=".75" stroke-linejoin="round"/>
<path d="M924.4 705L1023.1 645.7M975.6 545L1093.75 494.4" stroke="#c4dec4" stroke-width="1.2" fill="none" opacity=".8"/>
<clipPath id="cA"><rect x="900" y="700" width="60" height="19.6"/></clipPath><g clip-path="url(#cA)">
<rect x="920.2" y="710.8" width="9.8" height="13.2" rx="3.5" fill="#cfe4cf"/>
<text x="925.1" y="720.7" font-family='"DejaVu Sans", Verdana, sans-serif' font-size="10.2" fill="#fff" font-weight="bold" text-anchor="middle">A</text>
</g>
<rect x="971.2" y="526.2" width="9.6" height="11.4" rx="3.5" fill="#cfe4cf"/>
<text x="976" y="535.6" font-family='"DejaVu Sans", Verdana, sans-serif' font-size="10.2" fill="#fff" font-weight="bold" text-anchor="middle">B</text>
<rect x="1019.4" y="651.3" width="9.6" height="11.1" rx="3.5" fill="#cfe4cf"/>
<text x="1024.2" y="660.4" font-family='"DejaVu Sans", Verdana, sans-serif' font-size="10.2" fill="#fff" font-weight="bold" text-anchor="middle">C</text>
<rect x="1089" y="476.3" width="9.8" height="10.3" rx="3.5" fill="#cfe4cf"/>
<text x="1093.9" y="485" font-family='"DejaVu Sans", Verdana, sans-serif' font-size="10.2" fill="#fff" font-weight="bold" text-anchor="middle">D</text>
<rect x="959.8" y="671" width="29.8" height="11.5" rx="3.5" fill="#cfe4cf"/>
<text x="974.7" y="680.5" font-family='"DejaVu Sans", Verdana, sans-serif' font-size="10.2" fill="#fff" font-weight="bold" text-anchor="middle" textLength="27" lengthAdjust="spacingAndGlyphs">0.625</text>
<rect x="1023" y="515.6" width="24" height="11.4" rx="3.5" fill="#cfe4cf"/>
<text x="1035" y="525" font-family='"DejaVu Sans", Verdana, sans-serif' font-size="10.2" fill="#fff" font-weight="bold" text-anchor="middle" textLength="21" lengthAdjust="spacingAndGlyphs">1.51</text>
</g>
<rect x="1173.5" y="453.5" width="77" height="13" fill="#dfeaf2" stroke="#6f879b" stroke-width="1"/>
<text x="1175.2" y="463.7" font-family='"DejaVu Sans", Verdana, sans-serif' font-size="9.4" fill="#222" textLength="73.3" lengthAdjust="spacingAndGlyphs">1.1385-1.1332</text>
<rect x="1173.5" y="523.5" width="37" height="13" fill="#dfeaf2" stroke="#6f879b" stroke-width="1"/>
<text x="1175.2" y="533.7" font-family='"DejaVu Sans", Verdana, sans-serif' font-size="9.4" fill="#222" textLength="33.3" lengthAdjust="spacingAndGlyphs">1.1122</text>
<rect x="1173.5" y="539.5" width="77" height="13" fill="#dfeaf2" stroke="#6f879b" stroke-width="1"/>
<text x="1175.2" y="549.7" font-family='"DejaVu Sans", Verdana, sans-serif' font-size="9.4" fill="#222" textLength="73.3" lengthAdjust="spacingAndGlyphs">1.1072-1.1013</text>
<g clip-path="url(#c3)">
<ellipse cx="1112.9" cy="460.8" rx="64.4" ry="17.7" fill="#fff" fill-opacity=".6" stroke="#ff22ee" stroke-width="1.8"/>
<path d="M756.5 478.75V516.9M760.5 497V530M763.5 491.9V521.9M767.5 482.9V507.5M771.5 488.75V518.75M774.5 503.75V524.75M778.5 471.9V520.6M782.5 480V513.75M785.5 482.9V513.75M789.5 481.9V502.9M793.5 468.75V496.9M796.5 451.9V487M800.5 449V461.9M804.5 445V464.75M807.5 423V455.6M811.5 423V459M815.5 450V466.9M818.5 453V475.9M822.5 451.9V471.9M826.5 455V466.9M830.5 462.75V534.5M833.5 523.75V564.75M837.5 543.75V564.75M841.5 541.9V551M844.5 536V593.75M848.5 568V592.75M852.5 543V573.75M855.5 549V563.75M859.5 556V582.75M863.5 573.75V608.75M866.5 593.75V611.9M870.5 594.75V649.75M874.5 625V645.6M877.5 633V658.75M881.5 630V649.75M885.5 612.9V653.75M888.5 616.9V646.9M892.5 634V658.75M896.5 653.75V670.6M899.5 652.75V674.75M903.5 632.9V663.75M907.5 639.75V668.75M910.5 663.75V681.9M914.5 659V673.75M918.5 653.75V689.75M921.5 672V679.75M925.5 668.75V688.75M929.5 681.9V691.9M932.5 668.75V691.9M936.5 669.75V693.75M940.5 570V703.75M943.5 576.9V611.9M947.5 596.9V622.75M951.5 591.9V613M954.5 551.9V598.75M958.5 556.9V586M962.5 555V584.75M965.5 550V580M969.5 546.9V591.9M973.5 561V596.9M976.5 588.75V615.9M980.5 600.9V620.6M984.5 581.9V608.75M987.5 569V592.75M991.5 576.9V601.9M995.5 573.75V591.9M998.5 566V578.75M1002.5 566.9V592.75M1006.5 580.9V592.75M1009.5 581.9V606.9M1013.5 580V627.9M1017.5 610.9V647.5M1020.5 621.9V647M1024.5 581.9V630.9M1028.5 582.75V620.9M1031.5 572.9V607.75M1035.5 592.75V616.9M1039.5 596.9V620.9M1042.5 580.9V611.9M1046.5 569V605.9M1050.5 585V601.9M1053.5 581.9V604.75M1057.5 571V599.75M1061.5 586.9V628.75M1064.5 600V624.75M1068.5 605.9V626.9M1072.5 601V616.9M1075.5 587.9V605.9M1079.5 574V601.9M1083.5 578.75V618.75M1086.5 590V617.9M1090.5 581.9V597.9M1094.5 521.9V591.9M1097.5 495V543.75M1101.5 492.9V532.75M1105.5 501.9V538.75M1108.5 466.25V516.25M1112.5 479.5V482.8" stroke="#717173" stroke-width="1" fill="none"/>
<path d="M759 498h3V509.75h-3zM770 493h3V513.75h-3zM781 501h3V511.9h-3zM788 485.9h3V496.9h-3zM799 460h3V461.9h-3zM810 426.9h3V452.75h-3zM814 451.9h3V464.75h-3zM817 460.9h3V471.9h-3zM825 463.75h3V466.9h-3zM829 465.9h3V533.75h-3zM832 533.1h3V561.9h-3zM840 547.75h3V550.9h-3zM843 550h3V587.75h-3zM854 553.75h3V560.6h-3zM858 560h3V576.9h-3zM862 575.9h3V604.75h-3zM869 597.75h3V641.9h-3zM876 636h3V644.75h-3zM887 618.75h3V633.75h-3zM891 640h3V655.9h-3zM895 655h3V668.75h-3zM906 641.9h3V668.75h-3zM909 669h3V670.6h-3zM917 667.9h3V673.75h-3zM920 673.1h3V677.75h-3zM924 676.9h3V683.75h-3zM928 683.75h3V691.9h-3zM935 670.9h3V676.9h-3zM942 581.9h3V600.9h-3zM946 601.9h3V611.9h-3zM957 556.9h3V582.75h-3zM968 566.9h3V586.9h-3zM972 586h3V591.9h-3zM975 590.9h3V615.9h-3zM990 576.9h3V590.9h-3zM1001 575h3V588.75h-3zM1008 584h3V604.75h-3zM1012 601h3V614.75h-3zM1016 613.75h3V637.75h-3zM1027 585h3V588.75h-3zM1030 588.75h3V605.9h-3zM1034 604.75h3V606.9h-3zM1041 600h3V604.75h-3zM1049 586.9h3V596.9h-3zM1056 590.9h3V598.75h-3zM1060 597.9h3V601.9h-3zM1063 601h3V624.75h-3zM1082 581.9h3V614.75h-3zM1100 505h3V520.75h-3zM1111 480h3V482h-3z" fill="#ff0000"/>
<path d="M755 498h3V511.9h-3zM762 492.75h3V511.9h-3zM766 492.6h3V493.6h-3zM773 507.9h3V513.75h-3zM777 505h3V508.75h-3zM784 485.9h3V511.9h-3zM792 485h3V496.9h-3zM795 461.9h3V485.9h-3zM803 455h3V461.9h-3zM806 426.9h3V455.6h-3zM821 463.75h3V471.9h-3zM836 547.75h3V564.75h-3zM847 570.9h3V587.75h-3zM851 563.75h3V571.9h-3zM865 597.75h3V604.75h-3zM873 636h3V643.75h-3zM880 640h3V644.75h-3zM884 618.75h3V640.6h-3zM898 663.1h3V668.75h-3zM902 641.9h3V663.75h-3zM913 667.9h3V670.9h-3zM931 670.9h3V691.9h-3zM939 581.9h3V676.9h-3zM950 595.9h3V611.9h-3zM953 556.9h3V596.9h-3zM961 569h3V582.75h-3zM964 566.9h3V570h-3zM979 602.9h3V615.9h-3zM983 588.75h3V607.75h-3zM986 576.9h3V589.75h-3zM994 577.9h3V590.9h-3zM997 575h3V578.75h-3zM1005 584h3V588.75h-3zM1019 627.9h3V637.75h-3zM1023 585h3V628.75h-3zM1038 600h3V606.9h-3zM1045 590.9h3V604.75h-3zM1052 590.9h3V596.9h-3zM1067 607.75h3V625.9h-3zM1071 601.9h3V608.75h-3zM1074 595h3V602.9h-3zM1078 581.9h3V595.75h-3zM1085 596.9h3V613.75h-3zM1089 587.9h3V597.9h-3zM1093 534h3V588.75h-3zM1096 505h3V534.75h-3zM1104 509h3V523.75h-3zM1107 480h3V509.5h-3z" fill="#0000ff"/>
</g>
<path d="M770.5 567.4L791.5 567.4L795.33 542.42L806.5 567.4L828.1 567.4A8 8 0 0 1 836.1 575.4L836.1 591.8A8 8 0 0 1 828.1 599.8L770.5 599.8A8 8 0 0 1 762.5 591.8L762.5 575.4A8 8 0 0 1 770.5 567.4Z" fill="none" stroke="#ffff00" stroke-width="5.2" stroke-linejoin="round" opacity=".4"/>
<path d="M770.5 567.4L791.5 567.4L795.33 542.42L806.5 567.4L828.1 567.4A8 8 0 0 1 836.1 575.4L836.1 591.8A8 8 0 0 1 828.1 599.8L770.5 599.8A8 8 0 0 1 762.5 591.8L762.5 575.4A8 8 0 0 1 770.5 567.4Z" fill="#fff" fill-opacity=".72" stroke="#ffff00" stroke-width="3" stroke-linejoin="miter" stroke-miterlimit="10"/>
<text x="773" y="586.8" font-family='"DejaVu Sans", Verdana, sans-serif' font-size="12" fill="#111" font-weight="bold" textLength="53.3" lengthAdjust="spacingAndGlyphs">Support</text>
<path d="M1286 464.4L1342.2 464.4A8 8 0 0 1 1350.2 472.4L1350.2 488.4A8 8 0 0 1 1342.2 496.4L1292.2 496.4A8 8 0 0 1 1284.2 488.4L1284.2 472.3L1256.97 464.82Z" fill="none" stroke="#ffff00" stroke-width="5.2" stroke-linejoin="round" opacity=".4"/>
<path d="M1286 464.4L1342.2 464.4A8 8 0 0 1 1350.2 472.4L1350.2 488.4A8 8 0 0 1 1342.2 496.4L1292.2 496.4A8 8 0 0 1 1284.2 488.4L1284.2 472.3L1256.97 464.82Z" fill="#fff" fill-opacity=".72" stroke="#ffff00" stroke-width="3" stroke-linejoin="miter" stroke-miterlimit="10"/>
<text x="1294" y="483.7" font-family='"DejaVu Sans", Verdana, sans-serif' font-size="12" fill="#111" font-weight="bold" textLength="45.5" lengthAdjust="spacingAndGlyphs">Supply</text>
<path d="M1289 513.3L1354.5 513.3A8 8 0 0 1 1362.5 521.3L1362.5 548.5A8 8 0 0 1 1354.5 556.5L1287.3 556.5A8 8 0 0 1 1279.3 548.5L1279.3 521.5L1170.56 473.52Z" fill="none" stroke="#ffff00" stroke-width="5.2" stroke-linejoin="round" opacity=".4"/>
<path d="M1289 513.3L1354.5 513.3A8 8 0 0 1 1362.5 521.3L1362.5 548.5A8 8 0 0 1 1354.5 556.5L1287.3 556.5A8 8 0 0 1 1279.3 548.5L1279.3 521.5L1170.56 473.52Z" fill="#fff" fill-opacity=".72" stroke="#ffff00" stroke-width="3" stroke-linejoin="miter" stroke-miterlimit="10"/>
<text x="1290.3" y="532.5" font-family='"DejaVu Sans", Verdana, sans-serif' font-size="12" fill="#111" font-weight="bold" textLength="61.4" lengthAdjust="spacingAndGlyphs">Ideal sell</text>
<text x="1290.3" y="544.4" font-family='"DejaVu Sans", Verdana, sans-serif' font-size="12" fill="#111" font-weight="bold" textLength="31" lengthAdjust="spacingAndGlyphs">zone</text>
<path d="M1261.5 571L1321.3 571A8 8 0 0 1 1329.3 579L1329.3 594A8 8 0 0 1 1321.3 602L1260.8 602A8 8 0 0 1 1252.8 594L1252.8 578.5L1242 555.84Z" fill="none" stroke="#ffff00" stroke-width="5.2" stroke-linejoin="round" opacity=".4"/>
<path d="M1261.5 571L1321.3 571A8 8 0 0 1 1329.3 579L1329.3 594A8 8 0 0 1 1321.3 602L1260.8 602A8 8 0 0 1 1252.8 594L1252.8 578.5L1242 555.84Z" fill="#fff" fill-opacity=".72" stroke="#ffff00" stroke-width="3" stroke-linejoin="miter" stroke-miterlimit="10"/>
<text x="1263.5" y="590.7" font-family='"DejaVu Sans", Verdana, sans-serif' font-size="12" fill="#111" font-weight="bold" textLength="55.6" lengthAdjust="spacingAndGlyphs">Demand</text>
<path d="M1075.3 633L1125.7 633A8 8 0 0 1 1133.7 641L1133.7 657.2A8 8 0 0 1 1125.7 665.2L1075.3 665.2A8 8 0 0 1 1067.3 657.2L1067.3 656.5L1039.49 633.34L1067.3 641.5L1067.3 641A8 8 0 0 1 1075.3 633Z" fill="none" stroke="#ffff00" stroke-width="5.2" stroke-linejoin="round" opacity=".4"/>
<path d="M1075.3 633L1125.7 633A8 8 0 0 1 1133.7 641L1133.7 657.2A8 8 0 0 1 1125.7 665.2L1075.3 665.2A8 8 0 0 1 1067.3 657.2L1067.3 656.5L1039.49 633.34L1067.3 641.5L1067.3 641A8 8 0 0 1 1075.3 633Z" fill="#fff" fill-opacity=".72" stroke="#ffff00" stroke-width="3" stroke-linejoin="miter" stroke-miterlimit="10"/>
<text x="1077" y="653.2" font-family='"DejaVu Sans", Verdana, sans-serif' font-size="12" fill="#111" font-weight="bold" textLength="46" lengthAdjust="spacingAndGlyphs">AB=CD</text>
<path d="M1444.5 404V722 M753 721.5H1445" stroke="#555555" stroke-width="1" fill="none"/>
<rect x="1445" y="418" width="3" height="1" fill="#555555"/>
<text x="1451.7" y="423.45" font-family='"Liberation Sans", Arial, sans-serif' font-size="10.6" fill="#555" textLength="37.9" lengthAdjust="spacingAndGlyphs">1.15000</text>
<rect x="1445" y="447" width="3" height="1" fill="#555555"/>
<text x="1451.7" y="452.45" font-family='"Liberation Sans", Arial, sans-serif' font-size="10.6" fill="#555" textLength="37.9" lengthAdjust="spacingAndGlyphs">1.14000</text>
<rect x="1445" y="505" width="3" height="1" fill="#555555"/>
<text x="1451.7" y="510.45" font-family='"Liberation Sans", Arial, sans-serif' font-size="10.6" fill="#555" textLength="37.9" lengthAdjust="spacingAndGlyphs">1.12000</text>
<rect x="1445" y="534" width="3" height="1" fill="#555555"/>
<text x="1451.7" y="539.45" font-family='"Liberation Sans", Arial, sans-serif' font-size="10.6" fill="#555" textLength="37.9" lengthAdjust="spacingAndGlyphs">1.11000</text>
<rect x="1445" y="563" width="3" height="1" fill="#555555"/>
<text x="1451.7" y="568.45" font-family='"Liberation Sans", Arial, sans-serif' font-size="10.6" fill="#555" textLength="37.9" lengthAdjust="spacingAndGlyphs">1.10000</text>
<rect x="1445" y="592" width="3" height="1" fill="#555555"/>
<text x="1451.7" y="597.45" font-family='"Liberation Sans", Arial, sans-serif' font-size="10.6" fill="#555" textLength="37.9" lengthAdjust="spacingAndGlyphs">1.09000</text>
<rect x="1445" y="621" width="3" height="1" fill="#555555"/>
<text x="1451.7" y="626.45" font-family='"Liberation Sans", Arial, sans-serif' font-size="10.6" fill="#555" textLength="37.9" lengthAdjust="spacingAndGlyphs">1.08000</text>
<rect x="1445" y="650" width="3" height="1" fill="#555555"/>
<text x="1451.7" y="655.45" font-family='"Liberation Sans", Arial, sans-serif' font-size="10.6" fill="#555" textLength="37.9" lengthAdjust="spacingAndGlyphs">1.07000</text>
<rect x="1445" y="679" width="3" height="1" fill="#555555"/>
<text x="1451.7" y="684.45" font-family='"Liberation Sans", Arial, sans-serif' font-size="10.6" fill="#555" textLength="37.9" lengthAdjust="spacingAndGlyphs">1.06000</text>
<rect x="1445" y="708" width="3" height="1" fill="#555555"/>
<text x="1451.7" y="713.45" font-family='"Liberation Sans", Arial, sans-serif' font-size="10.6" fill="#555" textLength="37.9" lengthAdjust="spacingAndGlyphs">1.05000</text>
<rect x="1444" y="473" width="50" height="16" fill="#ff0000"/>
<rect x="1444" y="480" width="3" height="1" fill="#fff"/>
<text x="1451.7" y="485.4" font-family='"Liberation Sans", Arial, sans-serif' font-size="10.6" fill="#fff" font-weight="bold" textLength="38.2" lengthAdjust="spacingAndGlyphs">1.12890</text>
<rect x="774" y="722" width="1" height="3" fill="#555555"/>
<text x="774.5" y="736.2" font-family='"Liberation Sans", Arial, sans-serif' font-size="10.8" fill="#555" text-anchor="middle">Oct</text>
<rect x="855" y="722" width="1" height="3" fill="#555555"/>
<text x="855.5" y="736.2" font-family='"Liberation Sans", Arial, sans-serif' font-size="10.8" fill="#555" text-anchor="middle">Nov</text>
<rect x="932" y="722" width="1" height="3" fill="#555555"/>
<text x="932.5" y="736.2" font-family='"Liberation Sans", Arial, sans-serif' font-size="10.8" fill="#555" text-anchor="middle">Dec</text>
<rect x="1013" y="722" width="1" height="3" fill="#555555"/>
<text x="1013.5" y="736.2" font-family='"Liberation Sans", Arial, sans-serif' font-size="10.8" fill="#555" font-weight="bold" text-anchor="middle">2016</text>
<rect x="1164" y="722" width="1" height="3" fill="#555555"/>
<text x="1164.5" y="736.2" font-family='"Liberation Sans", Arial, sans-serif' font-size="10.8" fill="#555" text-anchor="middle">Mar</text>
<rect x="1248" y="722" width="1" height="3" fill="#555555"/>
<text x="1248.5" y="736.2" font-family='"Liberation Sans", Arial, sans-serif' font-size="10.8" fill="#555" text-anchor="middle">Apr</text>
<rect x="1325" y="722" width="1" height="3" fill="#555555"/>
<text x="1325.5" y="736.2" font-family='"Liberation Sans", Arial, sans-serif' font-size="10.8" fill="#555" text-anchor="middle">May</text>
<rect x="1406" y="722" width="1" height="3" fill="#555555"/>
<text x="1406.5" y="736.2" font-family='"Liberation Sans", Arial, sans-serif' font-size="10.8" fill="#555" text-anchor="middle">Jun</text>
</svg></body></html>
